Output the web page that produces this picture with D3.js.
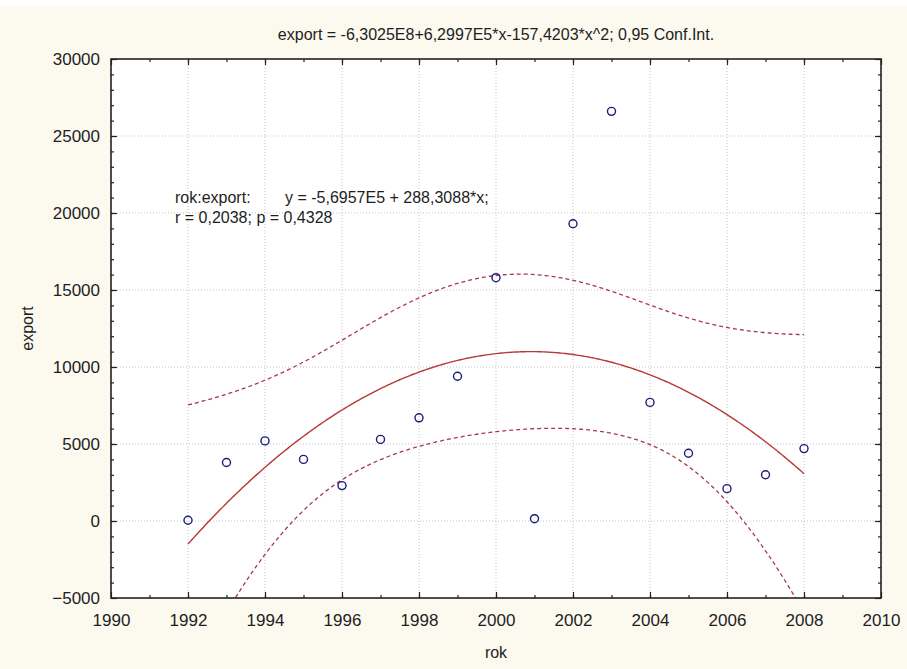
<!DOCTYPE html>
<html>
<head>
<meta charset="utf-8">
<script src="https://cdn.jsdelivr.net/npm/d3@7"></script>
<style>
  body { margin: 0; background: #fcf9ef; }
  svg { display: block; }
  text { font-family: "Liberation Sans", Arial, sans-serif; fill: #1e1e1e; }
</style>
</head>
<body>
<svg id="chart"></svg>
<script>
// data
const years = [1992, 1993, 1994, 1995, 1996, 1997, 1998, 1999, 2000, 2001, 2002, 2003, 2004, 2005, 2006, 2007, 2008];
const exportValues = [50, 3800, 5200, 4000, 2300, 5300, 6700, 9400, 15800, 150, 19300, 26600, 7700, 4400, 2100, 3000, 4700];
const xTicks = [1990, 1992, 1994, 1996, 1998, 2000, 2002, 2004, 2006, 2008, 2010];
const yTicks = [-5000, 0, 5000, 10000, 15000, 20000, 25000, 30000];
const titleText = "export = -6,3025E8+6,2997E5*x-157,4203*x^2; 0,95 Conf.Int.";
const noteLabel = "rok:export:";
const noteLines = ["y = -5,6957E5 + 288,3088*x;", "r = 0,2038; p = 0,4328"];
const tCrit = 2.1448; // t(0.975, 14)

const width = 907;
const height = 669;
const margin = { top: 59, right: 26, bottom: 71, left: 111 };

const svg = d3.select("#chart").attr("width", width).attr("height", height);

svg.append("rect").attr("width", width).attr("height", 6).attr("fill", "#ffffff");

const x = d3.scaleLinear().domain([1990, 2010]).range([margin.left, width - margin.right]);
const y = d3.scaleLinear().domain([-5000, 30000]).range([height - margin.bottom, margin.top]);

// quadratic least squares fit, x centred at 2000
function fitQuadratic(xs, ys) {
  const rows = xs.map(v => [1, v - 2000, (v - 2000) * (v - 2000)]);
  const A = [[0, 0, 0], [0, 0, 0], [0, 0, 0]];
  const b = [0, 0, 0];
  rows.forEach((r, i) => {
    for (let j = 0; j < 3; j++) {
      b[j] += r[j] * ys[i];
      for (let k = 0; k < 3; k++) A[j][k] += r[j] * r[k];
    }
  });
  const inv = invert3(A);
  const coef = [0, 1, 2].map(j => d3.sum([0, 1, 2], k => inv[j][k] * b[k]));
  const sse = d3.sum(rows, (r, i) => Math.pow(ys[i] - d3.sum([0, 1, 2], k => r[k] * coef[k]), 2));
  const s = Math.sqrt(sse / (xs.length - 3));
  return { coef, inv, s };
}

function invert3(m) {
  const [a, b, c] = m[0], [d, e, f] = m[1], [g, h, i] = m[2];
  const A = e * i - f * h, B = -(d * i - f * g), C = d * h - e * g;
  const det = a * A + b * B + c * C;
  return [
    [A / det, -(b * i - c * h) / det, (b * f - c * e) / det],
    [B / det, (a * i - c * g) / det, -(a * f - c * d) / det],
    [C / det, -(a * h - b * g) / det, (a * e - b * d) / det]
  ];
}

const fit = fitQuadratic(years, exportValues);
const curve = d3.range(1992, 2008.001, 0.05).map(v => {
  const r = [1, v - 2000, (v - 2000) * (v - 2000)];
  const yhat = d3.sum([0, 1, 2], k => r[k] * fit.coef[k]);
  let q = 0;
  for (let j = 0; j < 3; j++) for (let k = 0; k < 3; k++) q += r[j] * fit.inv[j][k] * r[k];
  const half = tCrit * fit.s * Math.sqrt(q);
  return { x: v, y: yhat, lo: yhat - half, hi: yhat + half };
});

// plot area
svg.append("rect")
  .attr("x", margin.left).attr("y", margin.top)
  .attr("width", width - margin.left - margin.right)
  .attr("height", height - margin.top - margin.bottom)
  .attr("fill", "#ffffff");

svg.append("defs").append("clipPath").attr("id", "clip")
  .append("rect")
  .attr("x", margin.left).attr("y", margin.top)
  .attr("width", width - margin.left - margin.right)
  .attr("height", height - margin.top - margin.bottom);

// grid
const grid = svg.append("g").attr("stroke", "#c4c4c4").attr("stroke-dasharray", "1,2");
grid.selectAll("line.vx")
  .data(xTicks.slice(1, -1))
  .join("line")
  .attr("x1", d => x(d)).attr("x2", d => x(d))
  .attr("y1", margin.top).attr("y2", height - margin.bottom);
grid.selectAll("line.hy")
  .data(yTicks.slice(1, -1))
  .join("line")
  .attr("x1", margin.left).attr("x2", width - margin.right)
  .attr("y1", d => y(d)).attr("y2", d => y(d));

// fit lines
const plot = svg.append("g").attr("clip-path", "url(#clip)");
const line = key => d3.line().x(d => x(d.x)).y(d => y(d[key]));

plot.append("path").datum(curve).attr("d", line("y"))
  .attr("fill", "none").attr("stroke", "#b83838").attr("stroke-width", 1.4);
["lo", "hi"].forEach(k => {
  plot.append("path").datum(curve).attr("d", line(k))
    .attr("fill", "none").attr("stroke", "#a83a48").attr("stroke-width", 1.3)
    .attr("stroke-dasharray", "4,3");
});

// points
plot.selectAll("circle")
  .data(years)
  .join("circle")
  .attr("cx", d => x(d))
  .attr("cy", (d, i) => y(exportValues[i]))
  .attr("r", 4)
  .attr("fill", "none")
  .attr("stroke", "#1c1c7a")
  .attr("stroke-width", 1.4);

// axes, ticks pointing inward on all four sides
const xMinor = d3.range(1991, 2010, 1);
const yMinor = d3.range(-4000, 30000, 1000);

function addAxis(axisFn, scale, pos, major, minor, labels) {
  const g = svg.append("g").attr("transform", pos);
  g.call(axisFn(scale).tickValues(minor).tickSize(-3).tickFormat(""));
  const gm = svg.append("g").attr("transform", pos);
  gm.call(axisFn(scale).tickValues(major).tickSize(-6).tickPadding(labels ? 14 : 0)
    .tickFormat(labels ? d3.format("d") : ""));
  [g, gm].forEach(s => {
    s.select(".domain").remove();
    s.selectAll(".tick line").attr("stroke", "#222").attr("stroke-width", 1.2);
  });
  gm.selectAll(".tick text").attr("font-size", 17).attr("fill", "#1e1e1e");
  return gm;
}

const bottom = height - margin.bottom, right = width - margin.right;
addAxis(d3.axisBottom, x, `translate(0,${bottom})`, xTicks, xMinor, true)
  .selectAll(".tick text").attr("dy", "0.71em").attr("y", 16);
addAxis(d3.axisTop, x, `translate(0,${margin.top})`, xTicks, xMinor, false);
addAxis(d3.axisLeft, y, `translate(${margin.left},0)`, yTicks, yMinor, true)
  .selectAll(".tick text").attr("x", -11);
addAxis(d3.axisRight, y, `translate(${right},0)`, yTicks, yMinor, false);

// frame
svg.append("rect")
  .attr("x", margin.left).attr("y", margin.top)
  .attr("width", width - margin.left - margin.right)
  .attr("height", height - margin.top - margin.bottom)
  .attr("fill", "none").attr("stroke", "#222").attr("stroke-width", 1.6);

// titles
svg.append("text").attr("x", x(2000)).attr("y", 40)
  .attr("text-anchor", "middle").attr("font-size", 16).text(titleText);
svg.append("text").attr("x", x(2000)).attr("y", 658)
  .attr("text-anchor", "middle").attr("font-size", 16).text("rok");
svg.append("text")
  .attr("transform", `translate(33,${y(12500)}) rotate(-90)`)
  .attr("text-anchor", "middle").attr("font-size", 16).text("export");

// regression note
const note = svg.append("g").attr("font-size", 16);
note.append("text").attr("x", 175).attr("y", 203).text(noteLabel);
note.append("text").attr("x", 285).attr("y", 203).text(noteLines[0]);
note.append("text").attr("x", 175).attr("y", 223).text(noteLines[1]);
</script>
</body>
</html>
